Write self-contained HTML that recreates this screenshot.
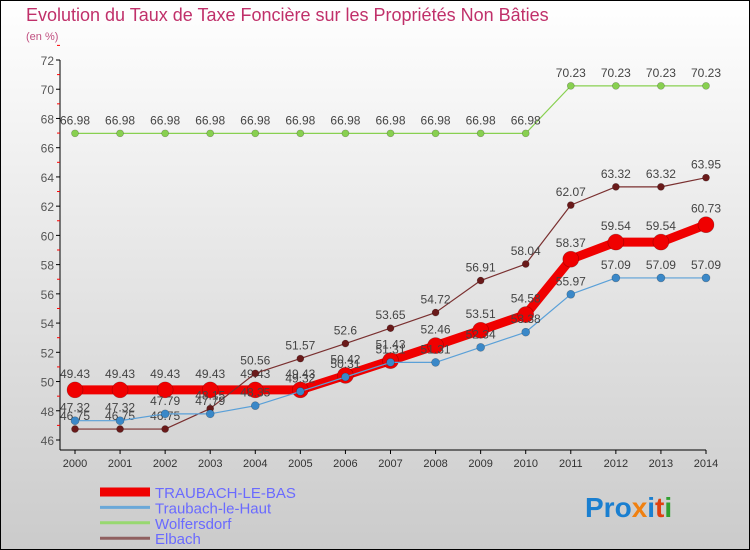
<!DOCTYPE html>
<html><head><meta charset="utf-8"><style>
body{margin:0;}
#wrap{width:750px;height:550px;position:relative;overflow:hidden;font-family:"Liberation Sans",sans-serif;}
</style></head><body>
<div id="wrap">
<svg id="svg" width="750" height="550" xmlns="http://www.w3.org/2000/svg">
<defs><linearGradient id="bg" x1="0" y1="0" x2="0" y2="1"><stop offset="0" stop-color="#ffffff"/><stop offset="1" stop-color="#cbcbcb"/></linearGradient></defs>
<rect x="0.5" y="0.5" width="749" height="549" fill="url(#bg)" stroke="#000"/>
<text x="26" y="21" font-size="18" fill="#c0306a">Evolution du Taux de Taxe Foncière sur les Propriétés Non Bâties</text>
<text x="26" y="40" font-size="11" fill="#c05080">(en %)</text>
<g id="axes"></g>
<g id="series"></g>
<g id="legend"></g>
<text x="585" y="517" font-size="28" font-weight="bold"><tspan fill="#1a7fd0">Pro</tspan><tspan fill="#f08010">x</tspan><tspan fill="#1a7fd0">i</tspan><tspan fill="#e04010">t</tspan><tspan fill="#30a030">i</tspan></text>
</svg>
</div>
<script>
const years=[2000,2001,2002,2003,2004,2005,2006,2007,2008,2009,2010,2011,2012,2013,2014];
const yTicks=[46,48,50,52,54,56,58,60,62,64,66,68,70,72];
const traubachBas=[49.43,49.43,49.43,49.43,49.43,49.43,50.42,51.43,52.46,53.51,54.58,58.37,59.54,59.54,60.73];
const traubachHaut=[47.32,47.32,47.79,47.79,48.35,49.32,50.31,51.31,51.31,52.34,53.38,55.97,57.09,57.09,57.09];
const woltersdorf=[66.98,66.98,66.98,66.98,66.98,66.98,66.98,66.98,66.98,66.98,66.98,70.23,70.23,70.23,70.23];
const elbach=[46.75,46.75,46.75,48.15,50.56,51.57,52.6,53.65,54.72,56.91,58.04,62.07,63.32,63.32,63.95];
const seriesNames=["TRAUBACH-LE-BAS","Traubach-le-Haut","Wolfersdorf","Elbach"];

const NS="http://www.w3.org/2000/svg";
const x0=75,x1=706,yTop=60,yBot=440;
function xS(i){return x0+(x1-x0)*i/(years.length-1);}
function yS(v){return yBot-(v-46)*(yBot-yTop)/(72-46);}
function mk(tag,attrs,parent){const e=document.createElementNS(NS,tag);for(const k in attrs)e.setAttribute(k,attrs[k]);parent.appendChild(e);return e;}
const axes=document.getElementById('axes');
let ya=mk('line',{x1:60,y1:60,x2:60,y2:450,stroke:'#000'},axes);


let xa=mk('line',{x1:60,y1:450,x2:706,y2:450,stroke:'#000'},axes);


yTicks.forEach(v=>{
  const y=yS(v);
  mk('line',{x1:56,y1:y,x2:60,y2:y,stroke:'#000'},axes);
  mk('line',{x1:57,y1:yS(v+1),x2:60,y2:yS(v+1),stroke:'#f00'},axes);
  const t=mk('text',{x:54,y:y+5,'font-size':12,'text-anchor':'end',fill:'#555'},axes);
  t.textContent=v;
  
  
});
years.forEach((yr,i)=>{
  const x=xS(i);
  mk('line',{x1:x,y1:450,x2:x,y2:454,stroke:'#000'},axes);
  const t=mk('text',{x:x,y:467,'font-size':11,'text-anchor':'middle',fill:'#333'},axes);
  t.textContent=yr;
  
  
});
const sg=document.getElementById('series');
const defs=[
  {d:traubachBas,c:'#f00000',w:9,r:8,f:'#f00000',n:'traubach-le-bas'},
  {d:woltersdorf,c:'#88d050',w:1.2,r:3.5,f:'#88d050',n:'woltersdorf'},
  {d:elbach,c:'#7a3030',w:1.2,r:3.5,f:'#6a1a1a',n:'elbach'},
  {d:traubachHaut,c:'#5aa0d8',w:1.2,r:4,f:'#3a88c8',n:'traubach-le-haut'}
];
defs.forEach(s=>{
  const g=mk('g',{},sg);
  
  
  const p=mk('polyline',{points:s.d.map((v,i)=>xS(i)+','+yS(v)).join(' '),fill:'none',stroke:s.c,'stroke-width':s.w,'stroke-linejoin':'round'},g);
  
  
  s.d.forEach((v,i)=>{
    const c=mk('circle',{cx:xS(i),cy:yS(v),r:s.r,fill:s.f,stroke:'rgba(0,0,0,0.3)','stroke-width':0.6},g);
    
    
    const t=mk('text',{x:xS(i),y:yS(v)-(s.r>6?12:9),'font-size':12,'text-anchor':'middle',fill:'#444'},g);
    t.textContent=v;
    
    
  });
});
const lg=document.getElementById('legend');
const lc=['#f00000','#6aa8d8','#98d870','#906060'];
const lw=[9,3,3,3];
seriesNames.forEach((n,i)=>{
  const y=492+i*15.4;
  const l=mk('line',{x1:100,y1:y,x2:150,y2:y,stroke:lc[i],'stroke-width':lw[i]},lg);
  
  
  const t=mk('text',{x:155,y:y+6,'font-size':15,fill:'#6a6aff'},lg);
  t.textContent=n;
  
  
});
</script>
</body></html>
